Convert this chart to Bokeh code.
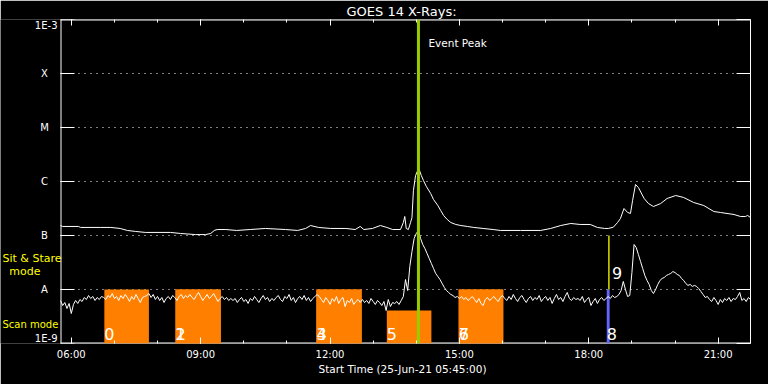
import numpy as np
from bokeh.plotting import figure
from bokeh.models import ColumnDataSource, FixedTicker, LinearAxis, LogAxis, Label, Span, Title
from bokeh.core.properties import value
from bokeh.embed import file_html
from bokeh.resources import INLINE

# ---------------- data ----------------
title_text = "GOES 14 X-Rays:"
axis_title = "Start Time (25-Jun-21 05:45:00)"
t_start = "05:45"
t_end = "21:45"
tick_hours = [6, 9, 12, 15, 18, 21]
tick_labels = ["06:00", "09:00", "12:00", "15:00", "18:00", "21:00"]
minor_hours = list(range(6, 22))
flux_levels = [1e-9, 1e-8, 1e-7, 1e-6, 1e-5, 1e-4, 1e-3]
flux_labels = ["1E-9", "A", "B", "C", "M", "X", "1E-3"]

# long channel (1-8 A), flux in units of 1e-9 W/m^2
long_time = ["05:45", "05:48", "06:10", "06:13", "06:41", "06:55", "07:08", "07:18", "07:29", "07:43",
             "08:18", "08:32", "08:53", "09:07", "09:14", "09:19", "09:23", "09:35", "09:50", "10:09",
             "10:30", "10:58", "11:15", "11:26", "11:33", "11:44", "12:01", "12:22", "12:35", "12:42",
             "12:47", "12:59", "13:10", "13:19", "13:27", "13:38", "13:42", "13:44", "13:46", "13:49",
             "13:52", "13:54", "13:56", "13:59", "14:02", "14:04", "14:07", "14:10", "14:14", "14:20",
             "14:24", "14:30", "14:34", "14:38", "14:43", "14:48", "14:55", "15:02", "15:11", "15:20",
             "15:33", "15:47", "15:57", "16:25", "16:53", "17:07", "17:21", "17:35", "17:48", "18:02",
             "18:12", "18:22", "18:27", "18:34", "18:40", "18:44", "18:49", "18:54", "18:58", "19:01",
             "19:05", "19:09", "19:17", "19:23", "19:30", "19:40", "19:49", "20:01", "20:12", "20:26",
             "20:40", "20:54", "21:03", "21:22", "21:31", "21:38", "21:41", "21:45"]
long_flux = [153, 147, 147, 141, 141, 141, 135, 124, 119, 114,
             114, 109, 104, 104, 109, 124, 129, 129, 124, 129,
             135, 129, 124, 135, 153, 141, 135, 135, 129, 147,
             129, 135, 153, 141, 129, 129, 174, 225, 135, 129,
             174, 215, 681, 1290, 1600, 1670, 1290, 1040, 808, 600,
             464, 359, 290, 235, 198, 174, 160, 153, 147, 141,
             135, 129, 124, 124, 124, 135, 153, 167, 160, 160,
             141, 135, 135, 142, 174, 206, 316, 267, 256, 450,
             880, 774, 485, 391, 344, 391, 485, 550, 506, 408,
             359, 278, 267, 245, 225, 225, 235, 215]

# short channel (0.5-4 A), one reading every 3 minutes from 05:45, units of 1e-9 W/m^2
short_step_min = 3
short_flux = [
    6.26, 5.05, 5.74, 4.45, 5.51, 3.59, 5.28, 6.26, 5.51, 6.53, 5.99, 7.11, 6.53, 7.74, 6.81, 7.42, 6.26, 7.11, 6.53, 7.42,
    7.11, 6.53, 7.74, 7.11, 8.43, 6.81, 7.42, 6.26, 7.74, 6.81, 8.08, 7.11, 5.99, 7.42, 6.53, 8.08, 6.81, 5.74, 7.11, 7.42,
    7.74, 8.43, 7.11, 8.08, 6.53, 7.42, 6.26, 7.11, 5.74, 6.81, 7.42, 6.53, 7.74, 7.11, 6.26, 7.42, 8.08, 6.81, 7.74, 7.11,
    8.08, 7.11, 6.53, 7.74, 8.80, 7.42, 6.26, 7.11, 8.08, 6.81, 7.42, 8.43, 7.11, 5.99, 6.81, 7.42, 6.53, 7.11, 6.26, 6.81,
    6.26, 6.81, 5.74, 6.53, 7.11, 5.99, 6.53, 5.51, 6.81, 6.26, 7.42, 6.53, 5.74, 6.81, 7.74, 6.53, 7.11, 5.99, 6.81, 6.26,
    7.11, 7.74, 6.53, 5.99, 7.42, 6.81, 8.08, 6.26, 7.11, 5.74, 6.81, 7.42, 6.53, 7.74, 6.26, 7.11, 5.99, 6.81, 7.42, 8.08,
    7.42, 6.53, 5.74, 7.11, 6.26, 5.28, 6.81, 5.99, 7.42, 5.51, 6.53, 7.11, 4.84, 6.26, 5.74, 6.81, 5.28, 5.99, 6.53, 5.74,
    6.53, 5.74, 6.26, 5.51, 6.81, 5.99, 5.28, 6.26, 5.74, 5.05, 5.99, 4.08, 6.53, 4.84, 5.74, 5.51, 5.99, 5.28, 6.26, 7.42,
    15.3, 9.58, 26.7, 50.6, 88.0, 108.9, 123.8, 88.0, 68.1, 57.4, 46.4, 37.5, 30.3, 24.5, 19.8, 17.4, 15.3, 12.9, 10.9, 9.58,
    8.80, 8.08, 7.74, 7.11, 7.42, 6.81, 7.42, 6.53, 7.11, 6.26, 6.81, 7.42, 6.53, 5.74, 6.81, 5.51, 5.05, 6.53, 7.11, 6.26,
    6.81, 7.42, 6.53, 5.99, 7.11, 7.74, 6.81, 6.26, 7.42, 6.53, 8.08, 6.81, 5.99, 7.11, 7.74, 6.53, 5.74, 6.81, 7.42, 6.26,
    7.11, 6.53, 7.74, 5.99, 6.81, 7.42, 6.26, 7.11, 5.51, 6.81, 8.08, 6.53, 7.11, 5.99, 7.42, 8.80, 6.81, 6.26, 7.11, 6.53,
    6.81, 6.26, 7.42, 5.74, 6.53, 7.11, 5.05, 5.99, 6.81, 5.51, 6.53, 7.11, 6.26, 6.81, 7.42, 6.81, 7.74, 7.11, 7.42, 8.08,
    9.58, 14.1, 10.0, 7.42, 7.74, 20.6, 68.1, 59.9, 44.5, 33.0, 24.5, 18.2, 14.7, 12.4, 9.58, 8.43, 10.0, 12.4, 14.7, 16.0,
    16.7, 18.2, 19.0, 19.8, 21.5, 20.6, 19.0, 18.2, 16.0, 14.7, 12.9, 11.9, 12.4, 11.4, 11.9, 11.4, 10.4, 9.18, 8.08, 7.11,
    7.42, 6.53, 5.99, 7.11, 6.26, 5.28, 6.53, 5.74, 6.81, 6.26, 7.11, 5.99, 6.81, 6.53, 7.42, 8.80, 6.26, 6.81, 5.99, 7.11, 6.53,
]

# observation events
ev_num = ["0", "1", "2", "3", "4", "5", "6", "7", "8", "9"]
ev_start = ["06:46", "08:25", "08:25", "11:41", "11:41", "13:19", "14:59", "14:59", "18:25", "18:28"]
ev_end = ["07:48", "09:28", "09:28", "12:44", "12:44", "14:21", "16:01", "16:01", "18:29", "18:28"]
ev_low = [1e-9, 1e-9, 1e-9, 1e-9, 1e-9, 1e-9, 1e-9, 1e-9, 1e-9, 1e-8]
ev_high = [1e-8, 1e-8, 1e-8, 1e-8, 1e-8, 4.1e-9, 1e-8, 1e-8, 1e-8, 1e-7]
ev_mode = ["scan"] * 9 + ["stare"]
ev_color = ["#ff8000"] * 8 + ["#6464ff", "#ffff00"]
peak_time = "14:03"


def hrs(s):
    h, m = s.split(":")
    return int(h) + int(m) / 60.0


FONT = "DejaVu Sans"
WHITE = "white"
YEL = "#ffff00"

x0, x1 = hrs(t_start), hrs(t_end)
PLOT_W = 690.0                      # pixel width of the time window
HPX = (x1 - x0) / PLOT_W            # hours per pixel
MARGIN_PX = 60                      # left label margin, kept inside the canvas frame
xs = x0 - MARGIN_PX * HPX

p = figure(width=768, height=384, x_range=(xs, x1), y_range=(flux_levels[0], flux_levels[-1]),
           y_axis_type="log", output_backend="svg", toolbar_location=None,
           min_border_left=0, min_border_right=18, min_border_top=19, min_border_bottom=41,
           background_fill_color="black", border_fill_color="black",
           outline_line_color=None)

# ---------- title (above) ----------
p.title.text = title_text
p.title.text_color = WHITE
p.title.text_font = FONT
p.title.text_font_style = "normal"
p.title.text_font_size = "13px"
p.title.align = "left"
p.title.offset = 346
p.title.standoff = 0
p.title.vertical_align = "middle"

# ---------- axes ----------
p.yaxis.visible = False

xa = p.xaxis[0]
xa.ticker = FixedTicker(ticks=tick_hours, minor_ticks=minor_hours)
xa.major_label_overrides = {h: l for h, l in zip(tick_hours, tick_labels)}
xa.major_tick_in = 6
xa.major_tick_out = 0
xa.minor_tick_in = 3
xa.minor_tick_out = 0
xa.axis_line_color = None
xa.major_tick_line_color = WHITE
xa.minor_tick_line_color = WHITE
xa.major_label_text_color = WHITE
xa.major_label_text_font = FONT
xa.major_label_text_font_size = "10px"
xa.major_label_standoff = 5

p.add_layout(Title(text=axis_title, text_color=WHITE, text_font=FONT, text_font_style="normal",
                   text_font_size="10.5px", align="left", offset=318, standoff=0,
                   vertical_align="top"), "below")

blank_x = {h: "" for h in tick_hours}
top = LinearAxis(ticker=FixedTicker(ticks=tick_hours, minor_ticks=minor_hours),
                 major_tick_in=6, major_tick_out=0, minor_tick_in=3, minor_tick_out=0,
                 axis_line_color=None, major_tick_line_color=WHITE, minor_tick_line_color=WHITE,
                 major_label_overrides=blank_x, major_label_text_font_size="1px",
                 major_label_text_color=None, major_label_standoff=0)
p.add_layout(top, "above")

blank_y = {lev: "" for lev in flux_levels}
right = LogAxis(ticker=FixedTicker(ticks=flux_levels), major_tick_in=14, major_tick_out=0,
                minor_tick_line_color=None, axis_line_color=WHITE, major_tick_line_color=WHITE,
                major_label_overrides=blank_y, major_label_text_font_size="1px",
                major_label_text_color=None, major_label_standoff=0)
p.add_layout(right, "right")

p.xgrid.visible = False
p.ygrid.visible = False

# dotted level lines, box edges and left ticks of the time window
lev_in = flux_levels[1:-1]
p.segment(x0=[x0] * len(lev_in), x1=[x1] * len(lev_in), y0=lev_in, y1=lev_in,
          line_color=WHITE, line_width=1, line_dash="1 5")
p.segment(x0=[x0, x0], x1=[x1, x1], y0=[flux_levels[0], flux_levels[-1]],
          y1=[flux_levels[0], flux_levels[-1]], line_color=WHITE, line_width=2)
p.segment(x0=[x0] * len(flux_levels), x1=[x0 + 14 * HPX] * len(flux_levels),
          y0=flux_levels, y1=flux_levels, line_color=WHITE, line_width=1)
p.add_layout(Span(location=x0 + 0.5 * HPX, dimension="height", line_color=WHITE, line_width=1))

# ---------- events ----------
scan = [i for i, m in enumerate(ev_mode) if m == "scan"]
stare = [i for i, m in enumerate(ev_mode) if m == "stare"]
scan_src = ColumnDataSource(dict(
    left=[hrs(ev_start[i]) for i in scan], right=[hrs(ev_end[i]) for i in scan],
    bottom=[ev_low[i] for i in scan], top=[ev_high[i] for i in scan],
    color=[ev_color[i] for i in scan], num=[ev_num[i] for i in scan]))
p.quad(left="left", right="right", bottom="bottom", top="top", fill_color="color",
       line_color=None, source=scan_src)
stare_src = ColumnDataSource(dict(
    x=[hrs(ev_start[i]) for i in stare], y0=[ev_low[i] for i in stare],
    y1=[ev_high[i] for i in stare], color=[ev_color[i] for i in stare],
    num=[ev_num[i] for i in stare],
    ly=[10 ** (np.log10(ev_low[i]) + 0.31 * (np.log10(ev_high[i]) - np.log10(ev_low[i]))) for i in stare]))
p.segment(x0="x", y0="y0", x1="x", y1="y1", line_color="color", line_width=1.3, source=stare_src)

# ---------- curves ----------
lt = [hrs(t) for t in long_time]
p.line(lt, [v * 1e-9 for v in long_flux], line_color=WHITE, line_width=1)
st = [x0 + i * short_step_min / 60.0 for i in range(len(short_flux))]
p.line(st, [v * 1e-9 for v in short_flux], line_color=WHITE, line_width=1)

# event numbers
p.text(x="left", y="bottom", text="num", source=scan_src, text_color=WHITE,
       text_font=value(FONT), text_font_size="16px", text_align="left",
       text_baseline="bottom", x_offset=0, y_offset=-4)
p.text(x="x", y="ly", text="num", source=stare_src, text_color=WHITE,
       text_font=value(FONT), text_font_size="16px", text_align="left",
       text_baseline="middle", x_offset=3)

# event peak
pk = hrs(peak_time)
p.add_layout(Span(location=pk, dimension="height", line_color="#99cc00", line_width=3))
p.add_layout(Label(x=pk, y=3.6e-4, x_offset=10, text="Event Peak", text_color=WHITE,
                   text_font=FONT, text_font_size="10.5px", text_baseline="middle"))

# level labels in the left margin
for lev, lab in zip(flux_levels, flux_labels):
    if lab == "1E-3":
        kw = dict(x=x0 - 3 * HPX, text_align="right", text_baseline="top")
    elif lab == "1E-9":
        kw = dict(x=x0 - 3 * HPX, text_align="right", text_baseline="bottom")
    else:
        kw = dict(x=x0 - 16 * HPX, text_align="center", text_baseline="middle")
    p.add_layout(Label(y=lev, text=lab, text_color=WHITE, text_font=FONT,
                       text_font_size="10px", **kw))

# mode labels
p.add_layout(Label(x=x0 - 58 * HPX, y=3.75e-8, text="Sit & Stare", text_color=YEL, text_font=FONT,
                   text_font_size="11px", text_align="left", text_baseline="middle"))
p.add_layout(Label(x=x0 - 35.7 * HPX, y=2.15e-8, text="mode", text_color=YEL, text_font=FONT,
                   text_font_size="11px", text_align="center", text_baseline="middle"))
p.add_layout(Label(x=x0 - 58 * HPX, y=2.25e-9, text="Scan mode", text_color=YEL, text_font=FONT,
                   text_font_size="10px", text_align="left", text_baseline="middle"))

open("out.html", "w").write(file_html(p, INLINE))
